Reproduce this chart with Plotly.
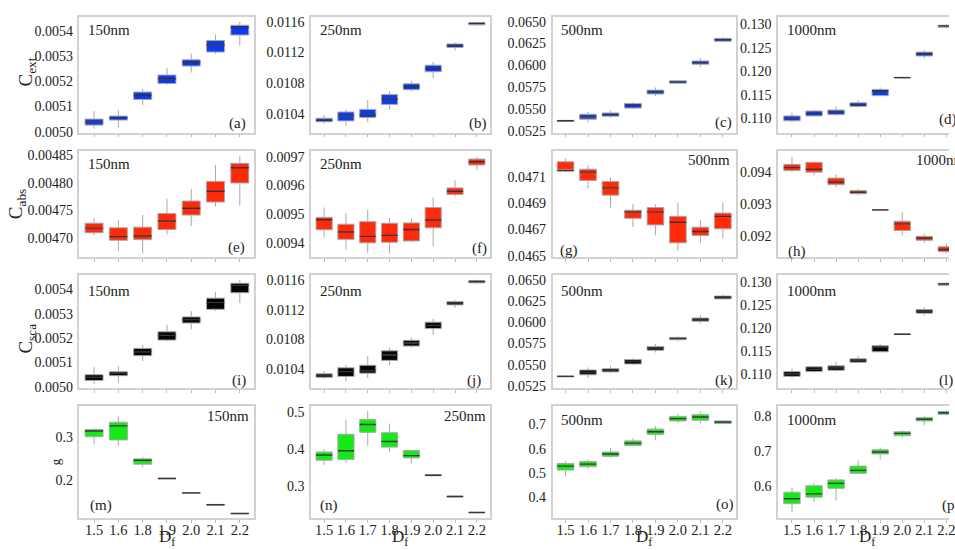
import plotly.graph_objects as go

# Fractal-dimension categories (the 150 nm column has no 1.7 case)
DF_7 = ["1.5", "1.6", "1.8", "1.9", "2.0", "2.1", "2.2"]
DF_8 = ["1.5", "1.6", "1.7", "1.8", "1.9", "2.0", "2.1", "2.2"]

# Each row: (lower whisker, q1, median, q3, upper whisker)
CEXT_150 = [
    (0.005012, 0.005026, 0.005039, 0.005050, 0.005082),
    (0.005017, 0.005046, 0.005056, 0.005062, 0.005085),
    (0.005106, 0.005128, 0.005144, 0.005158, 0.005171),
    (0.005187, 0.005192, 0.005211, 0.005226, 0.005255),
    (0.005236, 0.005262, 0.005276, 0.005287, 0.005311),
    (0.005311, 0.005318, 0.005346, 0.005364, 0.005389),
    (0.005344, 0.005386, 0.005416, 0.005425, 0.005438),
]
CEXT_250 = [
    (0.010272, 0.010294, 0.010315, 0.010341, 0.010383),
    (0.010242, 0.010306, 0.010371, 0.010422, 0.010456),
    (0.010285, 0.010349, 0.010383, 0.010456, 0.010576),
    (0.010456, 0.010521, 0.010592, 0.010649, 0.010691),
    (0.010691, 0.010713, 0.010755, 0.010790, 0.010828),
    (0.010862, 0.010947, 0.010990, 0.011033, 0.011076),
    (0.011226, 0.011264, 0.011290, 0.011310, 0.011332),
    (0.011546, 0.011559, 0.011579, 0.011588, 0.011601),
]
CEXT_500 = [
    (0.053513, 0.053570, 0.053626, 0.053680, 0.053739),
    (0.053435, 0.053817, 0.054076, 0.054380, 0.054673),
    (0.053998, 0.054155, 0.054335, 0.054527, 0.054831),
    (0.054977, 0.055090, 0.055394, 0.055619, 0.055765),
    (0.056441, 0.056700, 0.056970, 0.057150, 0.057454),
    (0.057826, 0.057939, 0.058096, 0.058209, 0.058321),
    (0.059819, 0.060123, 0.060303, 0.060495, 0.060832),
    (0.062634, 0.062747, 0.062938, 0.063084, 0.063231),
]
CEXT_1000 = [
    (0.109080, 0.109435, 0.110000, 0.110481, 0.111172),
    (0.110272, 0.110481, 0.110962, 0.111527, 0.111799),
    (0.110481, 0.110753, 0.111318, 0.111736, 0.112573),
    (0.112218, 0.112510, 0.112929, 0.113264, 0.113891),
    (0.114665, 0.114812, 0.115858, 0.116130, 0.116548),
    (0.118431, 0.118577, 0.118640, 0.118703, 0.118849),
    (0.122678, 0.123242, 0.123724, 0.124079, 0.124560),
    (0.129163, 0.129372, 0.129665, 0.129790, 0.130000),
]

CABS_150 = [
    (0.0047041, 0.0047089, 0.0047173, 0.0047263, 0.0047357),
    (0.0046755, 0.0046952, 0.0047018, 0.0047179, 0.0047321),
    (0.0046714, 0.0046964, 0.0047030, 0.0047191, 0.0047411),
    (0.0047059, 0.0047148, 0.0047304, 0.0047441, 0.0047709),
    (0.0047209, 0.0047411, 0.0047536, 0.0047666, 0.0047888),
    (0.0047566, 0.0047648, 0.0047845, 0.0048023, 0.0048322),
    (0.0047577, 0.0047995, 0.0048273, 0.0048352, 0.0048482),
]
CABS_250 = [
    (0.0094182, 0.0094456, 0.0094808, 0.0094891, 0.0095233),
    (0.0093771, 0.0094123, 0.0094377, 0.0094651, 0.0095038),
    (0.0093658, 0.0094000, 0.0094226, 0.0094740, 0.0095151),
    (0.0093634, 0.0094021, 0.0094260, 0.0094685, 0.0094867),
    (0.0094034, 0.0094068, 0.0094466, 0.0094695, 0.0094832),
    (0.0093884, 0.0094524, 0.0094798, 0.0095233, 0.0095576),
    (0.0095610, 0.0095689, 0.0095802, 0.0095918, 0.0096178),
    (0.0096545, 0.0096716, 0.0096829, 0.0096922, 0.0097000),
]
CABS_500 = [
    (0.0471341, 0.0471438, 0.0471460, 0.0472132, 0.0472385),
    (0.0470095, 0.0470714, 0.0471341, 0.0471565, 0.0471886),
    (0.0468655, 0.0469595, 0.0470147, 0.0470640, 0.0470968),
    (0.0467163, 0.0467835, 0.0468327, 0.0468454, 0.0468902),
    (0.0466537, 0.0467335, 0.0468327, 0.0468655, 0.0468902),
    (0.0465373, 0.0465970, 0.0467536, 0.0467984, 0.0469028),
    (0.0465970, 0.0466537, 0.0466835, 0.0467163, 0.0467708),
    (0.0466291, 0.0467037, 0.0467984, 0.0468230, 0.0469028),
]
CABS_1000 = [
    (0.094000, 0.094049, 0.094142, 0.094246, 0.094480),
    (0.093895, 0.094000, 0.094092, 0.094308, 0.094348),
    (0.093526, 0.093609, 0.093692, 0.093815, 0.093938),
    (0.093280, 0.093323, 0.093372, 0.093425, 0.093477),
    (0.092788, 0.092809, 0.092818, 0.092825, 0.092849),
    (0.092018, 0.092172, 0.092378, 0.092462, 0.092738),
    (0.091785, 0.091865, 0.091938, 0.091988, 0.092071),
    (0.091455, 0.091508, 0.091578, 0.091662, 0.091763),
]

# Scattering cross sections sit on the same values as extinction at this scale
CSCA_150 = list(CEXT_150)
CSCA_250 = list(CEXT_250)
CSCA_500 = list(CEXT_500)
CSCA_1000 = list(CEXT_1000)

G_150 = [
    (0.2834, 0.3000, 0.3130, 0.3168, 0.3191),
    (0.2789, 0.2925, 0.3250, 0.3334, 0.3471),
    (0.2305, 0.2364, 0.2455, 0.2486, 0.2532),
    (0.2020, 0.2025, 0.2032, 0.2040, 0.2045),
    (0.1685, 0.1690, 0.1698, 0.1705, 0.1710),
    (0.1410, 0.1418, 0.1425, 0.1432, 0.1440),
    (0.1212, 0.1215, 0.1220, 0.1225, 0.1228),
]
G_250 = [
    (0.3572, 0.3704, 0.3847, 0.3926, 0.4006),
    (0.3635, 0.3722, 0.3961, 0.4402, 0.4799),
    (0.4093, 0.4455, 0.4667, 0.4799, 0.5027),
    (0.3926, 0.4058, 0.4207, 0.4445, 0.4693),
    (0.3617, 0.3767, 0.3828, 0.3968, 0.3987),
    (0.3275, 0.3285, 0.3299, 0.3315, 0.3335),
    (0.2705, 0.2712, 0.2725, 0.2738, 0.2750),
    (0.2285, 0.2290, 0.2295, 0.2300, 0.2305),
]
G_500 = [
    (0.4876, 0.5119, 0.5281, 0.5391, 0.5484),
    (0.5176, 0.5257, 0.5362, 0.5472, 0.5553),
    (0.5622, 0.5687, 0.5784, 0.5865, 0.6027),
    (0.6092, 0.6132, 0.6230, 0.6323, 0.6432),
    (0.6364, 0.6595, 0.6700, 0.6809, 0.6931),
    (0.7065, 0.7146, 0.7243, 0.7336, 0.7446),
    (0.7041, 0.7174, 0.7308, 0.7405, 0.7539),
    (0.7000, 0.7041, 0.7105, 0.7146, 0.7174),
]
G_1000 = [
    (0.5271, 0.5504, 0.5644, 0.5832, 0.5972),
    (0.5551, 0.5692, 0.5784, 0.6017, 0.6093),
    (0.5596, 0.5944, 0.6084, 0.6185, 0.6233),
    (0.6345, 0.6373, 0.6457, 0.6578, 0.6738),
    (0.6766, 0.6925, 0.6981, 0.7046, 0.7110),
    (0.7374, 0.7447, 0.7514, 0.7559, 0.7607),
    (0.7747, 0.7868, 0.7915, 0.7963, 0.8008),
    (0.8027, 0.8055, 0.8103, 0.8139, 0.8168),
]

SIZES = ["150nm", "250nm", "500nm", "1000nm"]
LETTERS = "abcdefghijklmnop"

# ---------------- layout geometry (pixels) ----------------
W, H = 955, 550
COL_PX = [(80, 256), (313, 493), (556, 741), (783, 955)]
ROW_PX = [(14, 132), (151, 259), (277, 392), (410, 525)]
X_RANGES = [[-0.6, 6.6], [-0.6, 7.6], [-0.58, 7.6], [-0.63, 7.12]]

FONT = "Times New Roman, Liberation Serif, serif"
TXT = "#222222"
BLUE, RED, BLACK, GREEN = "#0b3af2", "#ff2a0a", "#060606", "#14ea14"


def px(x):
    return x / W


def py(y):
    return 1 - y / H


# data, color, y range, dtick, tick0, format
panels = [
    (CEXT_150, BLUE, [0.004996, 0.005459], 0.0001, 0.0, ".4f"),
    (CEXT_250, BLUE, [0.010153, 0.011665], 0.0004, 0.0, ".4f"),
    (CEXT_500, BLUE, [0.052275, 0.065562], 0.0025, 0.0525, ".4f"),
    (CEXT_1000, BLUE, [0.106925, 0.131610], 0.005, 0.0, ".3f"),
    (CABS_150, RED, [0.0046643, 0.0048572], 0.00005, 0.0047, ".5f"),
    (CABS_250, RED, [0.0093497, 0.0097196], 0.0001, 0.0, ".4f"),
    (CABS_500, RED, [0.0464873, 0.0472930], 0.0002, 0.0465, ".4f"),
    (CABS_1000, RED, [0.091332, 0.094655], 0.001, 0.0, ".3f"),
    (CSCA_150, BLACK, [0.004996, 0.005459], 0.0001, 0.0, ".4f"),
    (CSCA_250, BLACK, [0.010153, 0.011665], 0.0004, 0.0, ".4f"),
    (CSCA_500, BLACK, [0.052275, 0.065562], 0.0025, 0.0525, ".4f"),
    (CSCA_1000, BLACK, [0.106925, 0.131610], 0.005, 0.0, ".3f"),
    (G_150, GREEN, [0.11067, 0.37206], 0.1, 0.0, ".1f"),
    (G_250, GREEN, [0.21348, 0.51777], 0.1, 0.0, ".1f"),
    (G_500, GREEN, [0.31203, 0.77824], 0.1, 0.0, ".1f"),
    (G_1000, GREEN, [0.50831, 0.83077], 0.1, 0.0, ".1f"),
]

fig = go.Figure()
layout = {}

for i, (stats, color, yr, dt, t0, fmt) in enumerate(panels):
    r, c = divmod(i, 4)
    n = i + 1
    xa = "x" if n == 1 else f"x{n}"
    ya = "y" if n == 1 else f"y{n}"
    cats = DF_7 if c == 0 else DF_8
    lo, q1, med, q3, hi = (list(v) for v in zip(*stats))

    fig.add_trace(go.Box(
        x=cats, q1=q1, median=med, q3=q3, lowerfence=lo, upperfence=hi,
        fillcolor=color, line=dict(color="#a8a8a8", width=1),
        whiskerwidth=0, width=0.74, boxpoints=False,
        xaxis=xa, yaxis=ya, showlegend=False, hoverinfo="skip",
    ))
    # darker median stroke on top of each box
    fig.add_trace(go.Box(
        x=cats, q1=med, median=med, q3=med, lowerfence=med, upperfence=med,
        fillcolor="rgba(0,0,0,0)", line=dict(color="rgba(20,20,20,0.75)", width=1.4),
        whiskerwidth=0, width=0.74, boxpoints=False,
        xaxis=xa, yaxis=ya, showlegend=False, hoverinfo="skip",
    ))

    x0, x1 = COL_PX[c]
    y0, y1 = ROW_PX[r]
    layout["xaxis" if n == 1 else f"xaxis{n}"] = dict(
        domain=[px(x0), px(x1)], anchor=ya, type="category",
        range=X_RANGES[c], showline=True, linecolor="#d2d2d2", linewidth=1.5,
        mirror=True, ticks="outside", ticklen=3, tickcolor="#bdbdbd",
        showticklabels=(r == 3), tickangle=0, ticklabelstandoff=-6,
        tickfont=dict(family=FONT, size=14.5, color=TXT),
        showgrid=False, zeroline=False,
    )
    layout["yaxis" if n == 1 else f"yaxis{n}"] = dict(
        domain=[py(y1), py(y0)], anchor=xa, range=yr, dtick=dt, tick0=t0,
        tickformat=fmt, showline=True, linecolor="#d2d2d2", linewidth=1.5,
        mirror=(c < 3), ticks="", showgrid=False, zeroline=False,
        ticklabelstandoff=2,
        tickfont=dict(family=FONT, size=14, color=TXT),
    )

annotations = []


def note(text, x, y, xanchor="left", size=14, angle=0):
    annotations.append(dict(
        text=text, x=px(x), y=py(y), xref="paper", yref="paper",
        xanchor=xanchor, yanchor="middle", showarrow=False, textangle=angle,
        font=dict(family=FONT, size=size, color=TXT),
    ))


# size tags
size_pos = [
    (87, 27, "left"), (320, 27, "left"), (563, 27, "left"), (790, 27, "left"),
    (87, 164, "left"), (320, 164, "left"), (737, 160, "right"), (920, 160, "left"),
    (87, 293, "left"), (320, 293, "left"), (563, 293, "left"), (790, 293, "left"),
    (253, 421, "right"), (491, 421, "right"), (563, 425, "left"), (790, 425, "left"),
]
for i, (x, y, a) in enumerate(size_pos):
    note(SIZES[i % 4], x, y, a, size=15)

# panel letters
letter_pos = [
    (250, 123, "right"), (470, 123, "left"), (718, 122, "left"), (943, 119, "left"),
    (249, 249, "right"), (473, 250, "left"), (562, 252, "left"), (791, 253, "left"),
    (250, 384, "right"), (468, 384, "left"), (718, 384, "left"), (943, 384, "left"),
    (89, 512, "left"), (320, 512, "left"), (719, 511, "left"), (946, 512, "left"),
]
for i, (x, y, a) in enumerate(letter_pos):
    note(f"({LETTERS[i]})", x, y, a, size=15)

# quantity labels
note("C<sub>ext</sub>", 27, 70, "center", size=19, angle=-90)
note("C<sub>abs</sub>", 17, 205, "center", size=19, angle=-90)
note("C<sub>sca</sub>", 27, 342, "center", size=19, angle=-90)
note("g", 56, 467, "center", size=13, angle=-90)
for xc in (168, 403, 648, 872):
    note("D<sub>f</sub>", xc, 545, "center", size=17)

fig.update_layout(
    width=W, height=H, margin=dict(l=0, r=0, t=0, b=0),
    paper_bgcolor="white", plot_bgcolor="white", boxmode="overlay",
    annotations=annotations, **layout,
)

fig.write_html("out.html")
